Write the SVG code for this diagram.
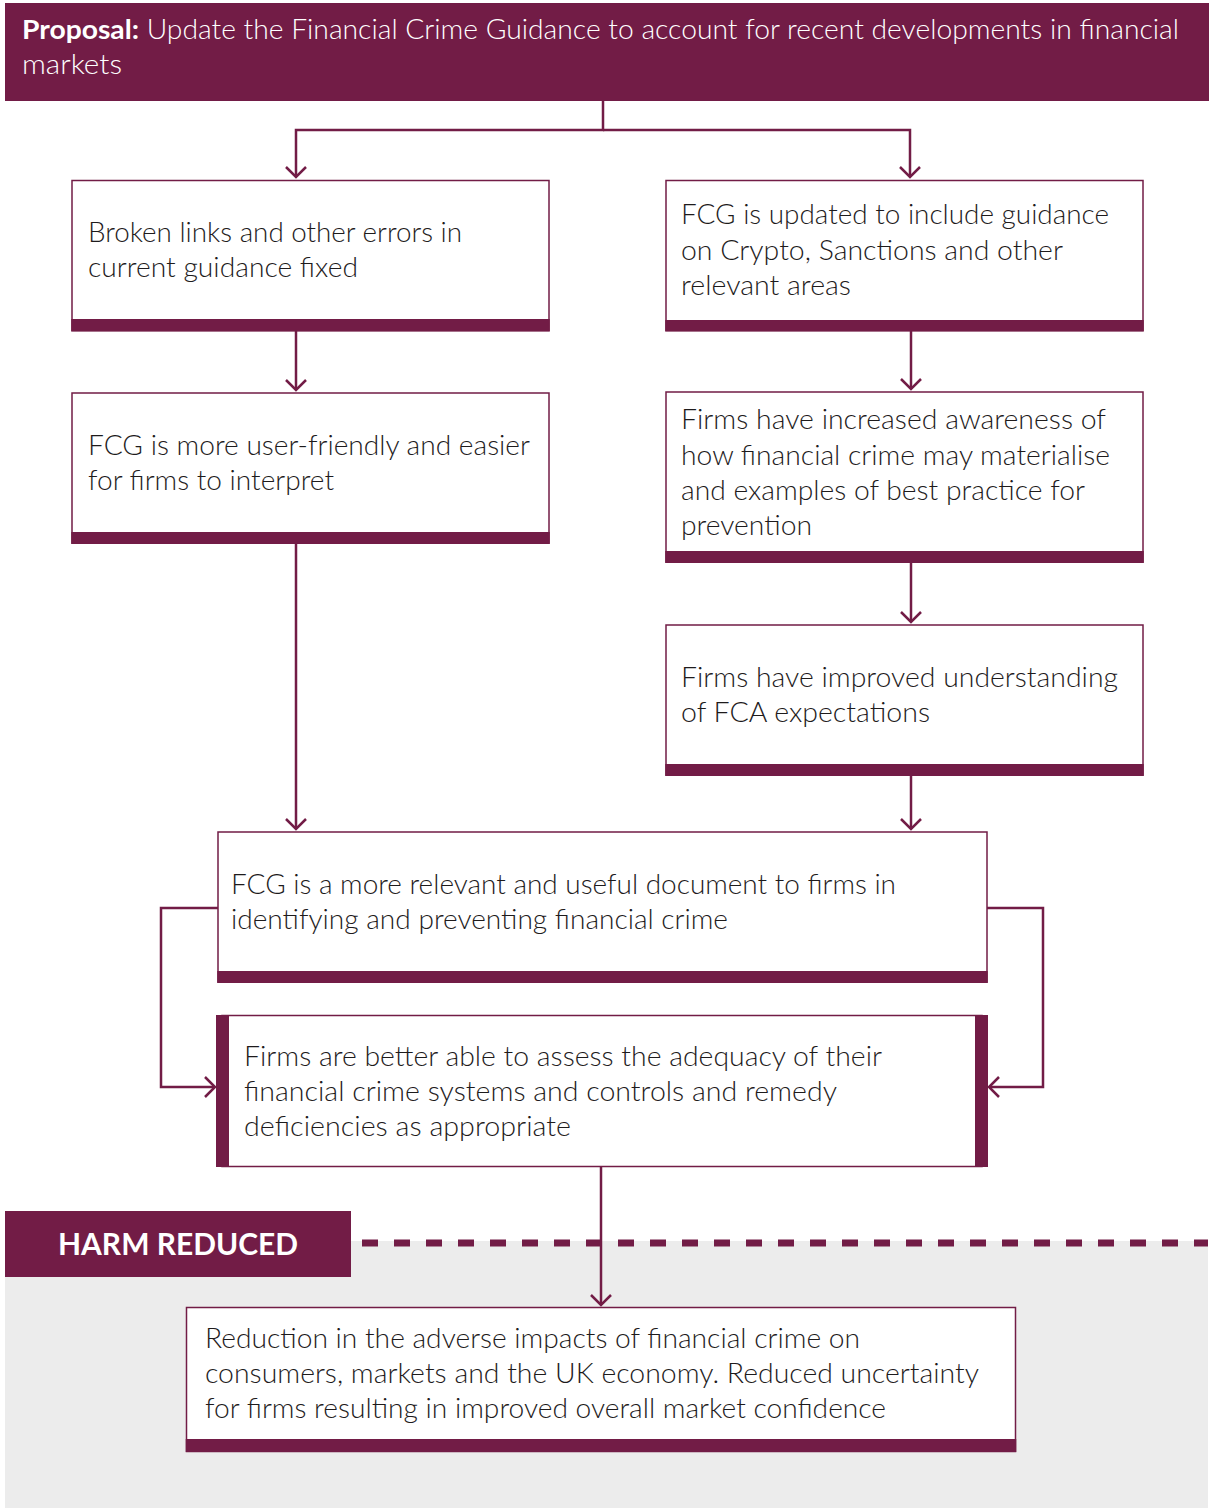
<svg xmlns="http://www.w3.org/2000/svg" width="1210" height="1508" viewBox="0 0 1210 1508">
<defs>
<style>
.t{font-family:Lato,"Liberation Sans",sans-serif;font-weight:300;font-size:27px;fill:#1e1b1c}
.box{fill:#fff;stroke:#721c46;stroke-width:1.5}
.bar{fill:#721c46}
.c{fill:none;stroke:#721c46;stroke-width:2.5}
</style>
<marker id="ah" markerUnits="userSpaceOnUse" markerWidth="24" markerHeight="24" viewBox="-12 -12 24 24" refX="0" refY="0" orient="auto">
<path d="M-10,-10 L0,0 L-10,10" fill="none" stroke="#721c46" stroke-width="2.5"/>
</marker>
</defs>
<rect x="0" y="0" width="1210" height="1508" fill="#fff"/>
<rect x="5" y="1241" width="1203" height="267" fill="#ececec"/>

<g id="header">
<rect x="5" y="3" width="1204" height="98" fill="#721c46"/>
<text x="22" y="39" class="t" style="fill:#fff" textLength="1157" lengthAdjust="spacingAndGlyphs"><tspan font-weight="700">Proposal:</tspan> Update the Financial Crime Guidance to account for recent developments in financial</text>
<text x="22" y="74" class="t" style="fill:#fff" textLength="100" lengthAdjust="spacingAndGlyphs">markets</text>
</g>

<g id="connectors">
<polyline class="c" points="603,101 603,130 296,130 296,177" marker-end="url(#ah)"/>
<polyline class="c" points="603,130 910,130 910,177" marker-end="url(#ah)"/>
<line class="c" x1="296" y1="331" x2="296" y2="390" marker-end="url(#ah)"/>
<line class="c" x1="911" y1="331" x2="911" y2="389" marker-end="url(#ah)"/>
<line class="c" x1="911" y1="563" x2="911" y2="622" marker-end="url(#ah)"/>
<line class="c" x1="911" y1="776" x2="911" y2="829" marker-end="url(#ah)"/>
<line class="c" x1="296" y1="544" x2="296" y2="829" marker-end="url(#ah)"/>
<polyline class="c" points="218,908 161,908 161,1087 215,1087" marker-end="url(#ah)"/>
<polyline class="c" points="987,908 1043,908 1043,1087 989,1087" marker-end="url(#ah)"/>
<line class="c" x1="601" y1="1167" x2="601" y2="1305" marker-end="url(#ah)"/>
</g>

<g id="box-broken-links">
<rect class="box" x="72" y="180.5" width="477" height="150"/>
<rect class="bar" x="71.25" y="319" width="478.5" height="12.5"/>
<text class="t" x="88" y="242" textLength="374" lengthAdjust="spacingAndGlyphs">Broken links and other errors in</text>
<text class="t" x="88" y="277" textLength="270" lengthAdjust="spacingAndGlyphs">current guidance fixed</text>
</g>

<g id="box-fcg-updated">
<rect class="box" x="666" y="180.5" width="477" height="150"/>
<rect class="bar" x="665.25" y="320" width="478.5" height="11.5"/>
<text class="t" x="681" y="224" textLength="428" lengthAdjust="spacingAndGlyphs">FCG is updated to include guidance</text>
<text class="t" x="681" y="260" textLength="382" lengthAdjust="spacingAndGlyphs">on Crypto, Sanctions and other</text>
<text class="t" x="681" y="295" textLength="170" lengthAdjust="spacingAndGlyphs">relevant areas</text>
</g>

<g id="box-user-friendly">
<rect class="box" x="72" y="393" width="477" height="150"/>
<rect class="bar" x="71.25" y="532" width="478.5" height="12"/>
<text class="t" x="88" y="455" textLength="442" lengthAdjust="spacingAndGlyphs">FCG is more user-friendly and easier</text>
<text class="t" x="88" y="490" textLength="246" lengthAdjust="spacingAndGlyphs">for firms to interpret</text>
</g>

<g id="box-awareness">
<rect class="box" x="666" y="392" width="477" height="170"/>
<rect class="bar" x="665.25" y="551" width="478.5" height="12"/>
<text class="t" x="681" y="429" textLength="425" lengthAdjust="spacingAndGlyphs">Firms have increased awareness of</text>
<text class="t" x="681" y="465" textLength="429" lengthAdjust="spacingAndGlyphs">how financial crime may materialise</text>
<text class="t" x="681" y="500" textLength="404" lengthAdjust="spacingAndGlyphs">and examples of best practice for</text>
<text class="t" x="681" y="535" textLength="131" lengthAdjust="spacingAndGlyphs">prevention</text>
</g>

<g id="box-understanding">
<rect class="box" x="666" y="625" width="477" height="150"/>
<rect class="bar" x="665.25" y="764" width="478.5" height="12"/>
<text class="t" x="681" y="687" textLength="437" lengthAdjust="spacingAndGlyphs">Firms have improved understanding</text>
<text class="t" x="681" y="722" textLength="249" lengthAdjust="spacingAndGlyphs">of FCA expectations</text>
</g>

<g id="box-relevant">
<rect class="box" x="218" y="832" width="769" height="150"/>
<rect class="bar" x="217.25" y="971" width="770.5" height="12"/>
<text class="t" x="231" y="894" textLength="665" lengthAdjust="spacingAndGlyphs">FCG is a more relevant and useful document to firms in</text>
<text class="t" x="231" y="929" textLength="497" lengthAdjust="spacingAndGlyphs">identifying and preventing financial crime</text>
</g>

<g id="box-assess">
<rect class="box" x="222" y="1015.5" width="760" height="151"/>
<rect class="bar" x="216" y="1015" width="13" height="152"/>
<rect class="bar" x="975" y="1015" width="13" height="152"/>
<text class="t" x="244" y="1066" textLength="638" lengthAdjust="spacingAndGlyphs">Firms are better able to assess the adequacy of their</text>
<text class="t" x="244" y="1101" textLength="593" lengthAdjust="spacingAndGlyphs">financial crime systems and controls and remedy</text>
<text class="t" x="244" y="1136" textLength="327" lengthAdjust="spacingAndGlyphs">deficiencies as appropriate</text>
</g>

<g id="harm-reduced">
<rect x="5" y="1211" width="346" height="66" fill="#721c46"/>
<text x="58" y="1255" style="font-family:Lato,'Liberation Sans',sans-serif;font-weight:700;font-size:30px;fill:#fff" textLength="240" lengthAdjust="spacingAndGlyphs">HARM REDUCED</text>
<line x1="362" y1="1243" x2="1208" y2="1243" stroke="#721c46" stroke-width="7" stroke-dasharray="16 16"/>
</g>

<g id="box-reduction">
<rect class="box" x="186.5" y="1307.5" width="829" height="144"/>
<rect class="bar" x="185.75" y="1439" width="830.5" height="13"/>
<text class="t" x="205" y="1348" textLength="655" lengthAdjust="spacingAndGlyphs">Reduction in the adverse impacts of financial crime on</text>
<text class="t" x="205" y="1383" textLength="774" lengthAdjust="spacingAndGlyphs">consumers, markets and the UK economy. Reduced uncertainty</text>
<text class="t" x="205" y="1418" textLength="681" lengthAdjust="spacingAndGlyphs">for firms resulting in improved overall market confidence</text>
</g>
</svg>
